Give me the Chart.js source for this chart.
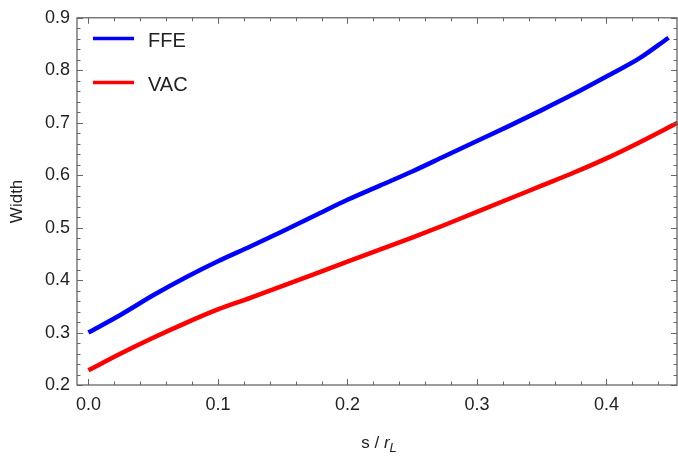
<!DOCTYPE html>
<html>
<head>
<meta charset="utf-8">
<script src="https://cdn.jsdelivr.net/npm/chart.js@4/dist/chart.umd.min.js"></script>
<style>
  html, body { margin: 0; padding: 0; background: #fff; }
  #wrap { width: 678px; height: 459px; }
</style>
</head>
<body>
<div id="wrap"><canvas id="c" width="678" height="459"></canvas></div>
<script>
// ---- data ----
const ffeS   = [0, 0.025, 0.05, 0.075, 0.1, 0.125, 0.15, 0.175, 0.2, 0.225, 0.25, 0.275, 0.3, 0.325, 0.35, 0.375, 0.4, 0.425, 0.448];
const ffeW   = [0.300, 0.334, 0.371, 0.405, 0.436, 0.464, 0.493, 0.523, 0.553, 0.580, 0.607, 0.636, 0.665, 0.694, 0.724, 0.755, 0.788, 0.822, 0.862];
const vacS   = [0, 0.025, 0.05, 0.075, 0.1, 0.125, 0.15, 0.175, 0.2, 0.225, 0.25, 0.275, 0.3, 0.325, 0.35, 0.375, 0.4, 0.425, 0.455];
const vacW   = [0.228, 0.260, 0.290, 0.318, 0.344, 0.366, 0.389, 0.412, 0.435, 0.458, 0.481, 0.505, 0.530, 0.555, 0.580, 0.605, 0.632, 0.662, 0.700];
const seriesLabels = ["FFE", "VAC"];
const xTicks = [0.0, 0.1, 0.2, 0.3, 0.4];
const yTicks = [0.2, 0.3, 0.4, 0.5, 0.6, 0.7, 0.8, 0.9];
const xMinor = [0.02, 0.04, 0.06, 0.08, 0.12, 0.14, 0.16, 0.18, 0.22, 0.24, 0.26, 0.28, 0.32, 0.34, 0.36, 0.38, 0.42, 0.44];
const yMinor = [0.22, 0.24, 0.26, 0.28, 0.32, 0.34, 0.36, 0.38, 0.42, 0.44, 0.46, 0.48, 0.52, 0.54, 0.56, 0.58, 0.62, 0.64, 0.66, 0.68, 0.72, 0.74, 0.76, 0.78, 0.82, 0.84, 0.86, 0.88];
const xTitle = ["s / ", "r", "L"];
const yTitle = "Width";

const FONT = "'Liberation Sans', Arial, sans-serif";
const FRAME = "#666";

const toPts = (xs, ys) => xs.map((x, i) => ({x: x, y: ys[i]}));

const framePlugin = {
  id: 'frame',
  afterDraw(chart) {
    const ctx = chart.ctx;
    const a = chart.chartArea;
    const xs = chart.scales.x, ys = chart.scales.y;
    ctx.save();
    ctx.strokeStyle = FRAME;
    ctx.lineWidth = 1.3;
    ctx.strokeRect(a.left, a.top, a.right - a.left, a.bottom - a.top);
    ctx.lineWidth = 1;
    const major = 6, minor = 3.5;
    ctx.beginPath();
    const xt = (v, len) => {
      const p = Math.round(xs.getPixelForValue(v)) + 0.5;
      ctx.moveTo(p, a.bottom); ctx.lineTo(p, a.bottom - len);
      ctx.moveTo(p, a.top); ctx.lineTo(p, a.top + len);
    };
    const yt = (v, len) => {
      const p = Math.round(ys.getPixelForValue(v)) + 0.5;
      ctx.moveTo(a.left, p); ctx.lineTo(a.left + len, p);
      ctx.moveTo(a.right, p); ctx.lineTo(a.right - len, p);
    };
    xTicks.forEach(v => xt(v, major));
    xMinor.forEach(v => xt(v, minor));
    yTicks.forEach(v => yt(v, major));
    yMinor.forEach(v => yt(v, minor));
    ctx.stroke();

    // axis titles
    ctx.fillStyle = "#222";
    ctx.textBaseline = "alphabetic";
    const cx = (a.left + a.right) / 2;
    const base = 448;
    ctx.font = "17px " + FONT;
    const w1 = ctx.measureText(xTitle[0]).width;
    ctx.font = "italic 17px " + FONT;
    const w2 = ctx.measureText(xTitle[1]).width;
    ctx.font = "italic 13px " + FONT;
    const w3 = ctx.measureText(xTitle[2]).width;
    let x0 = cx - (w1 + w2 + w3) / 2 + 2;
    ctx.textAlign = "left";
    ctx.font = "17px " + FONT;
    ctx.fillText(xTitle[0], x0, base);
    ctx.font = "italic 17px " + FONT;
    ctx.fillText(xTitle[1], x0 + w1, base);
    ctx.font = "italic 13px " + FONT;
    ctx.fillText(xTitle[2], x0 + w1 + w2, base + 4);

    ctx.save();
    ctx.translate(22, (a.top + a.bottom) / 2);
    ctx.rotate(-Math.PI / 2);
    ctx.font = "17px " + FONT;
    ctx.textAlign = "center";
    ctx.fillText(yTitle, 0, 0);
    ctx.restore();

    // legend
    const rows = [38.5, 82.5];
    chart.data.datasets.forEach((ds, i) => {
      ctx.strokeStyle = ds.borderColor;
      ctx.lineWidth = 3.5;
      ctx.beginPath();
      ctx.moveTo(93, rows[i]); ctx.lineTo(134, rows[i]);
      ctx.stroke();
      ctx.fillStyle = "#222";
      ctx.font = "20px " + FONT;
      ctx.textAlign = "left";
      ctx.textBaseline = "middle";
      ctx.fillText(ds.label, 148, rows[i] + 3);
    });
    ctx.restore();
  }
};

new Chart(document.getElementById('c'), {
  type: 'line',
  data: {
    datasets: [
      { label: seriesLabels[0], data: toPts(ffeS, ffeW), borderColor: '#0000ff', borderWidth: 4.5, pointRadius: 0, cubicInterpolationMode: 'monotone', fill: false, clip: false },
      { label: seriesLabels[1], data: toPts(vacS, vacW), borderColor: '#ff0000', borderWidth: 4.5, pointRadius: 0, cubicInterpolationMode: 'monotone', fill: false, clip: false }
    ]
  },
  options: {
    responsive: false,
    animation: false,
    devicePixelRatio: 1,
    layout: { padding: { left: 0, right: 1, top: 12, bottom: 0 } },
    plugins: { legend: { display: false }, tooltip: { enabled: false } },
    scales: {
      x: {
        type: 'linear',
        min: -0.0088,
        max: 0.4545,
        afterBuildTicks: s => { s.ticks = xTicks.map(v => ({value: v})); },
        afterFit: s => { s.height = 74; },
        grid: { display: false, drawTicks: false },
        border: { display: false },
        ticks: { color: '#222', font: { family: FONT, size: 18 }, padding: 9, maxRotation: 0, autoSkip: false,
                 callback: v => v.toFixed(1) }
      },
      y: {
        type: 'linear',
        min: 0.2,
        max: 0.9,
        afterBuildTicks: s => { s.ticks = yTicks.map(v => ({value: v})); },
        afterFit: s => { s.width = 77; },
        grid: { display: false, drawTicks: false },
        border: { display: false },
        ticks: { color: '#222', font: { family: FONT, size: 18 }, padding: 7, autoSkip: false,
                 callback: v => v.toFixed(1) }
      }
    }
  },
  plugins: [framePlugin]
});
</script>
</body>
</html>
